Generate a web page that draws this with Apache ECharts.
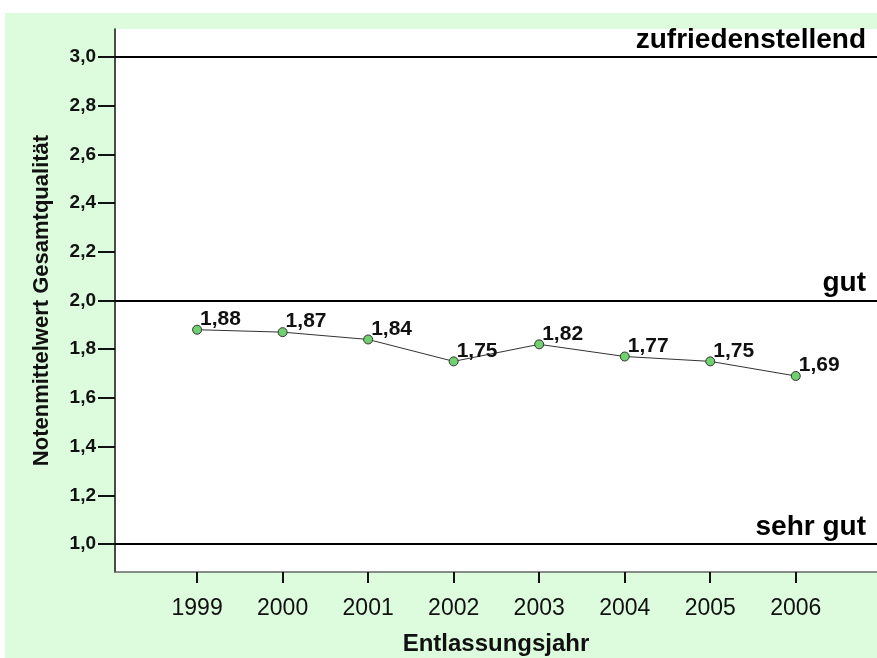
<!DOCTYPE html>
<html><head><meta charset="utf-8">
<script src="https://cdn.jsdelivr.net/npm/echarts@6/dist/echarts.min.js"></script>
<style>html,body{margin:0;padding:0;background:#fff}#c{width:877px;height:658px}</style>
</head><body><div id="c"></div>
<script>
const years = [1999, 2000, 2001, 2002, 2003, 2004, 2005, 2006];
const values = [1.88, 1.87, 1.84, 1.75, 1.82, 1.77, 1.75, 1.69];
const yTicks = [1.0, 1.2, 1.4, 1.6, 1.8, 2.0, 2.2, 2.4, 2.6, 2.8, 3.0];
const refLines = [
  {value: 1.0, label: 'sehr gut'},
  {value: 2.0, label: 'gut'},
  {value: 3.0, label: 'zufriedenstellend'}
];
const fmt = v => v.toFixed(1).replace('.', ',');
function fmt2(v){ return v.toFixed(2).replace('.', ','); }
const chart = echarts.init(document.getElementById('c'), null, {renderer: 'canvas'});
chart.setOption({
  backgroundColor: '#ffffff',
  animation: false,
  graphic: [{type: 'rect', z: -10, shape: {x: 5, y: 13, width: 872, height: 645}, style: {fill: '#ddfcdd'}}],
  grid: {left: 115, top: 29, right: 0, bottom: 86, show: true, backgroundColor: '#ffffff', borderWidth: 0,
         containLabel: false, outerBoundsMode: 'none'},
  xAxis: {
    type: 'value', min: 1998.04, max: 2006.95,
    name: 'Entlassungsjahr', nameLocation: 'middle', nameGap: 60,
    nameTextStyle: {fontFamily: 'Liberation Sans', fontWeight: 'bold', fontSize: 24, color: '#111'},
    axisLine: {show: true, lineStyle: {color: '#666', width: 1.5}},
    axisTick: {show: true, customValues: years, length: 11, lineStyle: {color: '#111', width: 2}},
    axisLabel: {customValues: years, formatter: v => String(v), fontFamily: 'Liberation Sans', fontSize: 23, color: '#111', margin: 25},
    splitLine: {show: false}
  },
  yAxis: {
    type: 'value', min: 0.885, max: 3.115,
    name: 'Notenmittelwert Gesamtqualität', nameLocation: 'middle', nameGap: 62, nameRotate: 90,
    nameTextStyle: {fontFamily: 'Liberation Sans', fontWeight: 'bold', fontSize: 22, color: '#111'},
    axisLine: {show: true, lineStyle: {color: '#111', width: 1.5}},
    axisTick: {show: true, customValues: yTicks, length: 17, lineStyle: {color: '#111', width: 2}},
    axisLabel: {customValues: yTicks, formatter: fmt, fontFamily: 'Liberation Sans', fontWeight: 'bold', fontSize: 19, color: '#111', margin: 19},
    splitLine: {show: false}
  },
  series: [{
    type: 'line',
    data: years.map((y, i) => [y, values[i]]),
    symbol: 'circle', symbolSize: 9,
    itemStyle: {color: '#6fd06f', borderColor: '#333', borderWidth: 1},
    lineStyle: {color: '#333', width: 1},
    label: {show: true, position: [8, -16], formatter: p => fmt2(p.value[1]), fontFamily: 'Liberation Sans', fontWeight: 'bold', fontSize: 21, color: '#111'},
    markLine: {
      silent: true, symbol: 'none',
      lineStyle: {color: '#000', width: 2, type: 'solid'},
      label: {show: true, position: 'insideEndTop', distance: [11, 3], fontFamily: 'Liberation Sans', fontWeight: 'bold', fontSize: 28, color: '#000', formatter: p => p.name},
      data: refLines.map(r => ({yAxis: r.value, name: r.label}))
    }
  }]
});
</script></body></html>
